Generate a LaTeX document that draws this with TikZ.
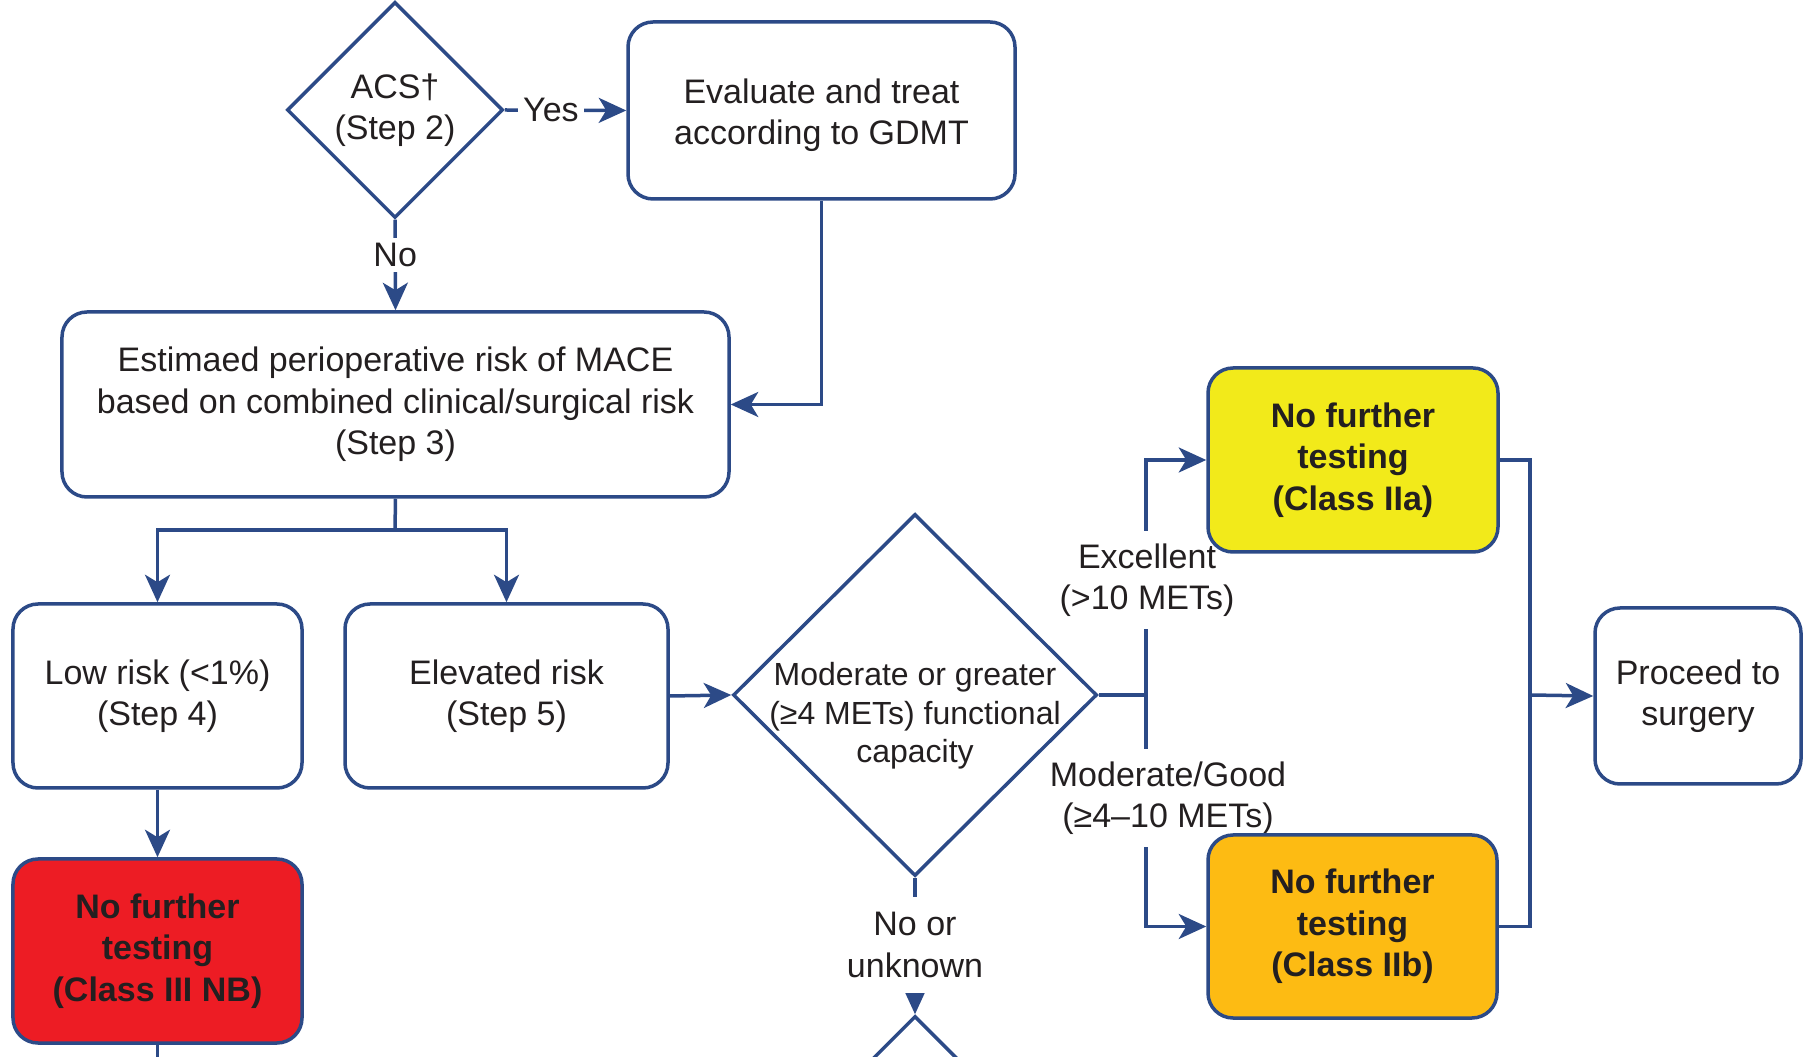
\documentclass[tikz,border=0pt]{standalone}
\usepackage{fontspec}
\setmainfont{Liberation Sans}
\usetikzlibrary{shapes.geometric,arrows.meta}
\definecolor{navy}{RGB}{44,74,135}
\definecolor{ink}{RGB}{35,31,32}
\definecolor{redbox}{RGB}{237,28,36}
\definecolor{yelbox}{RGB}{242,234,26}
\definecolor{orabox}{RGB}{253,187,19}
\pgfdeclarelayer{bg}
\pgfsetlayers{bg,main}
\begin{document}
\begin{tikzpicture}[x=0.4pt,y=-0.4pt,
  every node/.style={text=ink, font=\fontsize{13.6}{16.6}\selectfont},
  box/.style={draw=navy, line width=1.4pt, rounded corners=10pt, fill=white,
              align=center, inner sep=0pt},
  hot/.style={box, font=\bfseries\fontsize{13.6}{16.6}\selectfont},
  dia/.style={diamond, draw=navy, line width=1.4pt, fill=white, inner sep=0pt},
  wire/.style={draw=navy, line width=1.4pt},
  link/.style={wire, -{Stealth[length=11pt,width=10pt,inset=3pt]}},
  lbl/.style={fill=white, align=center, inner xsep=2pt, inner ysep=2pt}
]
\clip (0,0) rectangle (1808,1057);

% decision and process nodes
\node[dia, minimum width=86.4pt, minimum height=86.4pt] (acs) at (395,110) {};
\node[align=center] (acst) at (395,110) {ACS†\\(Step 2)};
\node[box, minimum width=154.8pt, minimum height=70.8pt] (eval) at (821.5,110.5) {};
\node[align=center] (evalt) at (821.5,115) {Evaluate and treat\\according to GDMT};
\node[box, minimum width=266.8pt, minimum height=74pt] (est) at (395.5,404.5)
  {Estimaed perioperative risk of MACE\\based on combined clinical/surgical risk\\(Step 3)};
\node[box, minimum width=115.6pt, minimum height=73.6pt] (low) at (157.5,696)
  {Low risk (<1\%)\\(Step 4)};
\node[box, minimum width=129.2pt, minimum height=73.6pt] (elev) at (506.5,696)
  {Elevated risk\\(Step 5)};
\node[hot, fill=redbox, minimum width=115.6pt, minimum height=73.6pt] (nb) at (157.5,951)
  {No further\\testing\\(Class III NB)};
\node[dia, minimum width=145.6pt, minimum height=144.8pt] (func) at (915,695) {};
\node[align=center, font=\fontsize{12.8}{15.4}\selectfont] (funct) at (915,716)
  {Moderate or greater\\(≥4 METs) functional\\capacity};
\node[hot, fill=yelbox, minimum width=116pt, minimum height=73.6pt] (iia) at (1353,460)
  {No further\\testing\\(Class IIa)};
\node[hot, fill=orabox, minimum width=115.6pt, minimum height=73.2pt] (iib) at (1352.5,926.5)
  {No further\\testing\\(Class IIb)};
\node[box, minimum width=82.4pt, minimum height=70.4pt] (surg) at (1698,696)
  {Proceed to\\surgery};
\node[dia, minimum width=86.4pt, minimum height=86.4pt] (next) at (915,1124) {};

\coordinate (split) at (395,530);
\coordinate (fc) at (1146,695);
\coordinate (merge) at (1530,695);
\coordinate (nbout) at (157.5,1080);

\begin{pgfonlayer}{bg}
  % top decision
  \draw[link] (acs.east) -- node[lbl, pos=0.38] (yes) {Yes} (eval.west);
  \draw[link] (acs.south) -- node[lbl, pos=0.39] (no) {No} (est.north);
  \draw[link] (eval.south) |- (est.east);
  % risk split
  \draw[wire] (est.south) -- (split);
  \draw[link] (split) -| (low.north);
  \draw[link] (split) -| (elev.north);
  \draw[link] (low.south) -- (nb.north);
  \draw[wire] (nb.south) -- (nbout);
  \draw[link] (elev.east) -- (func.west);
  % functional capacity branches
  \draw[wire] (func.east) -- (fc);
  \draw[link] (fc) |- (iia.west);
  \draw[link] (fc) |- (iib.west);
  \node[lbl, inner ysep=5pt] (exc) at (1147,580) {Excellent\\(>10 METs)};
  \node[lbl, inner ysep=5pt] (mod) at (1168,798) {Moderate/Good\\(≥4–10 METs)};
  \draw[link] (func.south) -- (next.north);
  \node[lbl, inner ysep=6pt] (unk) at (915,945) {No or\\unknown};
  % merge to surgery
  \draw[wire] (iia.east) -| (merge);
  \draw[wire] (iib.east) -| (merge);
  \draw[link] (merge) -- (surg.west);
\end{pgfonlayer}
\end{tikzpicture}
\end{document}
